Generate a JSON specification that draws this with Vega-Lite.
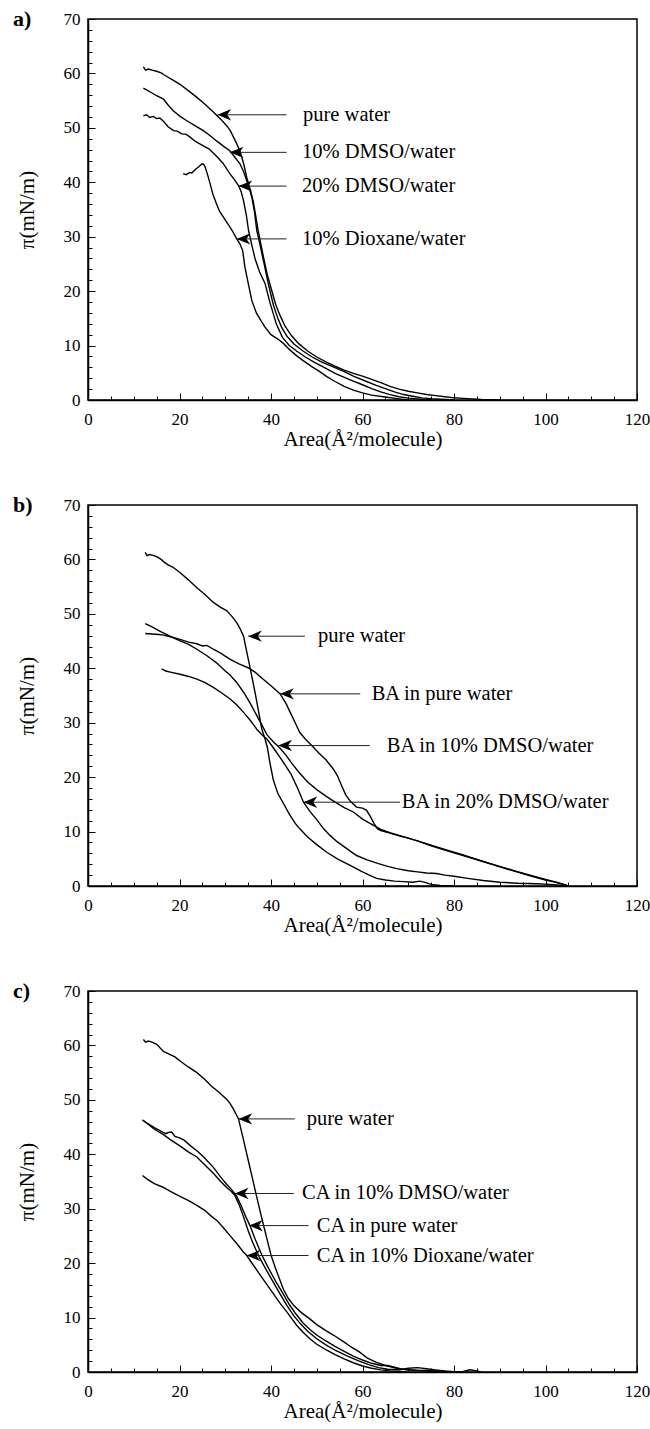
{
"$schema": "https://vega.github.io/schema/vega-lite/v6.json",
"background": "white",
"padding": {"left": 12, "top": 7, "right": 0, "bottom": 0},
"spacing": 43,
"datasets": {
"a_c": [
{"s":"pure water","x":12.1,"y":61.2},{"s":"pure water","x":12.6,"y":60.6},{"s":"pure water","x":13.2,"y":60.8},{"s":"pure water","x":14,"y":60.6},{"s":"pure water","x":15,"y":60.4},{"s":"pure water","x":16,"y":60.1},{"s":"pure water","x":16.5,"y":59.8},{"s":"pure water","x":17.5,"y":59.3},{"s":"pure water","x":18.5,"y":58.8},{"s":"pure water","x":20.1,"y":58.0},{"s":"pure water","x":22,"y":56.8},{"s":"pure water","x":23.8,"y":55.6},{"s":"pure water","x":25.5,"y":54.4},{"s":"pure water","x":27.4,"y":52.9},{"s":"pure water","x":29,"y":51.6},{"s":"pure water","x":30.3,"y":50.4},{"s":"pure water","x":31.1,"y":49.5},{"s":"pure water","x":31.8,"y":48.3},{"s":"pure water","x":32.5,"y":47.1},{"s":"pure water","x":33.2,"y":45.8},{"s":"pure water","x":34,"y":43.5},{"s":"pure water","x":34.7,"y":40.9},{"s":"pure water","x":35.4,"y":38.8},{"s":"pure water","x":36.1,"y":36.6},{"s":"pure water","x":37.2,"y":31.1},{"s":"pure water","x":38.3,"y":26.5},{"s":"pure water","x":39.2,"y":23},{"s":"pure water","x":40.1,"y":20.3},{"s":"pure water","x":41,"y":17.6},{"s":"pure water","x":42,"y":15.5},{"s":"pure water","x":43.1,"y":13.5},{"s":"pure water","x":44.5,"y":11.8},{"s":"pure water","x":46,"y":10.4},{"s":"pure water","x":48,"y":9},{"s":"pure water","x":50,"y":7.9},{"s":"pure water","x":52,"y":7},{"s":"pure water","x":54,"y":6.2},{"s":"pure water","x":56,"y":5.5},{"s":"pure water","x":58,"y":4.9},{"s":"pure water","x":60,"y":4.4},{"s":"pure water","x":62,"y":3.8},{"s":"pure water","x":64,"y":3.2},{"s":"pure water","x":66,"y":2.5},{"s":"pure water","x":68,"y":2},{"s":"pure water","x":70,"y":1.6},{"s":"pure water","x":72,"y":1.3},{"s":"pure water","x":74,"y":1},{"s":"pure water","x":76,"y":0.8},{"s":"pure water","x":78,"y":0.6},{"s":"pure water","x":80,"y":0.4},{"s":"pure water","x":82,"y":0.3},{"s":"pure water","x":84,"y":0.2},{"s":"pure water","x":86,"y":0.1},{"s":"pure water","x":88,"y":0.05},{"s":"pure water","x":90,"y":0},
{"s":"10% DMSO","x":12.1,"y":57.3},{"s":"10% DMSO","x":13,"y":56.9},{"s":"10% DMSO","x":14,"y":56.4},{"s":"10% DMSO","x":15,"y":55.9},{"s":"10% DMSO","x":16.5,"y":55.3},{"s":"10% DMSO","x":17.5,"y":54.2},{"s":"10% DMSO","x":18.7,"y":53.1},{"s":"10% DMSO","x":20,"y":52.2},{"s":"10% DMSO","x":21.6,"y":51.3},{"s":"10% DMSO","x":23,"y":50.6},{"s":"10% DMSO","x":25.2,"y":49.5},{"s":"10% DMSO","x":26.5,"y":48.7},{"s":"10% DMSO","x":28.1,"y":47.6},{"s":"10% DMSO","x":29.5,"y":46.7},{"s":"10% DMSO","x":31,"y":45.8},{"s":"10% DMSO","x":32.2,"y":44.5},{"s":"10% DMSO","x":33.2,"y":43.4},{"s":"10% DMSO","x":34,"y":42},{"s":"10% DMSO","x":34.7,"y":40.3},{"s":"10% DMSO","x":35.3,"y":38.8},{"s":"10% DMSO","x":35.8,"y":37.3},{"s":"10% DMSO","x":36.4,"y":34.5},{"s":"10% DMSO","x":36.9,"y":31.1},{"s":"10% DMSO","x":37.6,"y":28.5},{"s":"10% DMSO","x":38.5,"y":25},{"s":"10% DMSO","x":39.4,"y":21.4},{"s":"10% DMSO","x":40.5,"y":17.5},{"s":"10% DMSO","x":41.5,"y":15},{"s":"10% DMSO","x":42.3,"y":13.4},{"s":"10% DMSO","x":43.5,"y":11.7},{"s":"10% DMSO","x":45,"y":10.3},{"s":"10% DMSO","x":47,"y":9},{"s":"10% DMSO","x":49,"y":7.9},{"s":"10% DMSO","x":51,"y":7},{"s":"10% DMSO","x":53.6,"y":6.1},{"s":"10% DMSO","x":56,"y":5.2},{"s":"10% DMSO","x":58,"y":4.4},{"s":"10% DMSO","x":60.9,"y":3.4},{"s":"10% DMSO","x":63,"y":2.7},{"s":"10% DMSO","x":65,"y":2.1},{"s":"10% DMSO","x":67,"y":1.5},{"s":"10% DMSO","x":69,"y":1},{"s":"10% DMSO","x":71,"y":0.7},{"s":"10% DMSO","x":73,"y":0.4},{"s":"10% DMSO","x":75,"y":0.25},{"s":"10% DMSO","x":77,"y":0.15},{"s":"10% DMSO","x":80,"y":0},
{"s":"20% DMSO","x":12.1,"y":52.2},{"s":"20% DMSO","x":12.8,"y":52.4},{"s":"20% DMSO","x":13.5,"y":51.9},{"s":"20% DMSO","x":14.3,"y":52.1},{"s":"20% DMSO","x":15,"y":51.7},{"s":"20% DMSO","x":15.7,"y":51.8},{"s":"20% DMSO","x":16.5,"y":51.2},{"s":"20% DMSO","x":17.5,"y":50.2},{"s":"20% DMSO","x":18.7,"y":49.5},{"s":"20% DMSO","x":19.5,"y":49.4},{"s":"20% DMSO","x":20.5,"y":48.9},{"s":"20% DMSO","x":21.5,"y":48.8},{"s":"20% DMSO","x":22.3,"y":48.3},{"s":"20% DMSO","x":23.5,"y":47.5},{"s":"20% DMSO","x":25.2,"y":46.7},{"s":"20% DMSO","x":26.5,"y":46.1},{"s":"20% DMSO","x":28.1,"y":44.8},{"s":"20% DMSO","x":29.5,"y":43.5},{"s":"20% DMSO","x":31,"y":41.6},{"s":"20% DMSO","x":32,"y":40.5},{"s":"20% DMSO","x":32.9,"y":39.4},{"s":"20% DMSO","x":33.5,"y":38.2},{"s":"20% DMSO","x":34,"y":36.6},{"s":"20% DMSO","x":34.6,"y":34},{"s":"20% DMSO","x":35.1,"y":31.1},{"s":"20% DMSO","x":35.8,"y":28.5},{"s":"20% DMSO","x":36.5,"y":26},{"s":"20% DMSO","x":37.5,"y":23.5},{"s":"20% DMSO","x":38.7,"y":21.4},{"s":"20% DMSO","x":39.8,"y":17.8},{"s":"20% DMSO","x":41.2,"y":13.9},{"s":"20% DMSO","x":42.5,"y":11.5},{"s":"20% DMSO","x":44,"y":10},{"s":"20% DMSO","x":45.6,"y":9},{"s":"20% DMSO","x":47.5,"y":7.9},{"s":"20% DMSO","x":49.5,"y":6.9},{"s":"20% DMSO","x":51.4,"y":6.1},{"s":"20% DMSO","x":54,"y":4.9},{"s":"20% DMSO","x":57.3,"y":3.7},{"s":"20% DMSO","x":60,"y":2.8},{"s":"20% DMSO","x":62,"y":2.1},{"s":"20% DMSO","x":64,"y":1.5},{"s":"20% DMSO","x":66,"y":1},{"s":"20% DMSO","x":68,"y":0.6},{"s":"20% DMSO","x":70,"y":0.35},{"s":"20% DMSO","x":72,"y":0.2},{"s":"20% DMSO","x":75,"y":0},
{"s":"10% Dioxane","x":20.8,"y":41.6},{"s":"10% Dioxane","x":21.5,"y":41.4},{"s":"10% Dioxane","x":22.2,"y":41.8},{"s":"10% Dioxane","x":22.7,"y":41.7},{"s":"10% Dioxane","x":23.5,"y":42.4},{"s":"10% Dioxane","x":24.3,"y":42.9},{"s":"10% Dioxane","x":24.9,"y":43.4},{"s":"10% Dioxane","x":25.3,"y":43.3},{"s":"10% Dioxane","x":25.6,"y":42.8},{"s":"10% Dioxane","x":26.1,"y":41.5},{"s":"10% Dioxane","x":26.7,"y":39.7},{"s":"10% Dioxane","x":27.3,"y":37.8},{"s":"10% Dioxane","x":28.1,"y":36.0},{"s":"10% Dioxane","x":28.8,"y":34.6},{"s":"10% Dioxane","x":29.6,"y":33.6},{"s":"10% Dioxane","x":30.3,"y":32.7},{"s":"10% Dioxane","x":31,"y":31.8},{"s":"10% Dioxane","x":31.8,"y":30.7},{"s":"10% Dioxane","x":32.5,"y":29.6},{"s":"10% Dioxane","x":33.2,"y":28.7},{"s":"10% Dioxane","x":33.8,"y":27.5},{"s":"10% Dioxane","x":34.3,"y":24.4},{"s":"10% Dioxane","x":35,"y":21.5},{"s":"10% Dioxane","x":35.8,"y":18.3},{"s":"10% Dioxane","x":36.8,"y":16},{"s":"10% Dioxane","x":38,"y":14.3},{"s":"10% Dioxane","x":38.7,"y":13.4},{"s":"10% Dioxane","x":40,"y":12},{"s":"10% Dioxane","x":41.5,"y":11.2},{"s":"10% Dioxane","x":42.7,"y":10.4},{"s":"10% Dioxane","x":44,"y":9.3},{"s":"10% Dioxane","x":45.5,"y":8.2},{"s":"10% Dioxane","x":47.1,"y":7.2},{"s":"10% Dioxane","x":49,"y":6.1},{"s":"10% Dioxane","x":50.5,"y":5.3},{"s":"10% Dioxane","x":52.2,"y":4.3},{"s":"10% Dioxane","x":54,"y":3.4},{"s":"10% Dioxane","x":56,"y":2.5},{"s":"10% Dioxane","x":58,"y":1.8},{"s":"10% Dioxane","x":60,"y":1.3},{"s":"10% Dioxane","x":62,"y":0.9},{"s":"10% Dioxane","x":65.3,"y":0.5},{"s":"10% Dioxane","x":68,"y":0.2},{"s":"10% Dioxane","x":70,"y":0}
],
"a_n": [
{"label":"pure water","x":28.3,"y":52.4,"xe":43.4,"tx":47.0},
{"label":"10% DMSO/water","x":31,"y":45.5,"xe":43.4,"tx":46.8},
{"label":"20% DMSO/water","x":32.9,"y":39.3,"xe":43.4,"tx":46.8},
{"label":"10% Dioxane/water","x":32.5,"y":29.6,"xe":43.4,"tx":46.8}
],
"b_c": [
{"s":"pure water","x":12.5,"y":61.3},{"s":"pure water","x":12.9,"y":60.7},{"s":"pure water","x":13.4,"y":60.9},{"s":"pure water","x":14,"y":60.8},{"s":"pure water","x":15,"y":60.5},{"s":"pure water","x":16,"y":60.0},{"s":"pure water","x":16.5,"y":59.6},{"s":"pure water","x":17.5,"y":59.0},{"s":"pure water","x":18.5,"y":58.6},{"s":"pure water","x":20.1,"y":57.6},{"s":"pure water","x":22,"y":56.2},{"s":"pure water","x":23.8,"y":54.8},{"s":"pure water","x":25.5,"y":53.6},{"s":"pure water","x":27.4,"y":52.1},{"s":"pure water","x":29,"y":51.2},{"s":"pure water","x":30.3,"y":50.6},{"s":"pure water","x":31.5,"y":49.5},{"s":"pure water","x":32.5,"y":48.4},{"s":"pure water","x":33.3,"y":47.2},{"s":"pure water","x":34,"y":45.9},{"s":"pure water","x":34.7,"y":43.0},{"s":"pure water","x":35.4,"y":40.2},{"s":"pure water","x":36.5,"y":35.6},{"s":"pure water","x":37.3,"y":32},{"s":"pure water","x":38,"y":28.8},{"s":"pure water","x":38.7,"y":27},{"s":"pure water","x":39.2,"y":25.5},{"s":"pure water","x":39.8,"y":22.5},{"s":"pure water","x":40.5,"y":19.5},{"s":"pure water","x":41.5,"y":17},{"s":"pure water","x":42.7,"y":15.2},{"s":"pure water","x":44,"y":13.2},{"s":"pure water","x":45.3,"y":11.5},{"s":"pure water","x":46.3,"y":10.5},{"s":"pure water","x":48,"y":9},{"s":"pure water","x":50,"y":7.6},{"s":"pure water","x":52.2,"y":6.2},{"s":"pure water","x":54.5,"y":5},{"s":"pure water","x":57.3,"y":3.8},{"s":"pure water","x":60,"y":2.6},{"s":"pure water","x":61.5,"y":2},{"s":"pure water","x":63.1,"y":1.4},{"s":"pure water","x":65,"y":1.1},{"s":"pure water","x":67,"y":0.9},{"s":"pure water","x":69,"y":0.8},{"s":"pure water","x":71,"y":0.7},{"s":"pure water","x":72.5,"y":0.9},{"s":"pure water","x":73.5,"y":0.7},{"s":"pure water","x":75,"y":0.3},{"s":"pure water","x":77,"y":0.1},{"s":"pure water","x":80,"y":0},
{"s":"BA pure","x":12.5,"y":46.4},{"s":"BA pure","x":14,"y":46.3},{"s":"BA pure","x":15.5,"y":46.2},{"s":"BA pure","x":16.5,"y":46.1},{"s":"BA pure","x":18,"y":45.8},{"s":"BA pure","x":20.1,"y":45.3},{"s":"BA pure","x":22,"y":44.8},{"s":"BA pure","x":23.8,"y":44.5},{"s":"BA pure","x":25,"y":44.1},{"s":"BA pure","x":26,"y":44.2},{"s":"BA pure","x":27.4,"y":43.5},{"s":"BA pure","x":29,"y":42.8},{"s":"BA pure","x":31,"y":41.7},{"s":"BA pure","x":33,"y":40.8},{"s":"BA pure","x":35,"y":40.1},{"s":"BA pure","x":36.5,"y":39.3},{"s":"BA pure","x":38.3,"y":38.0},{"s":"BA pure","x":40,"y":36.8},{"s":"BA pure","x":42,"y":35.3},{"s":"BA pure","x":43.3,"y":33.5},{"s":"BA pure","x":44.2,"y":31.9},{"s":"BA pure","x":45,"y":30.5},{"s":"BA pure","x":46.3,"y":28.2},{"s":"BA pure","x":47.5,"y":27},{"s":"BA pure","x":48.9,"y":25.8},{"s":"BA pure","x":50.5,"y":24.4},{"s":"BA pure","x":52,"y":23.2},{"s":"BA pure","x":53.6,"y":21.5},{"s":"BA pure","x":54.5,"y":20.3},{"s":"BA pure","x":55.4,"y":18.5},{"s":"BA pure","x":56.3,"y":16.8},{"s":"BA pure","x":57.3,"y":15.6},{"s":"BA pure","x":58.7,"y":14.5},{"s":"BA pure","x":60,"y":14.3},{"s":"BA pure","x":60.9,"y":13.9},{"s":"BA pure","x":61.7,"y":12.8},{"s":"BA pure","x":62.5,"y":11.5},{"s":"BA pure","x":63.3,"y":10.5},{"s":"BA pure","x":64,"y":10.2},{"s":"BA pure","x":66,"y":9.7},{"s":"BA pure","x":68,"y":9.2},{"s":"BA pure","x":70,"y":8.8},{"s":"BA pure","x":72,"y":8.3},{"s":"BA pure","x":75,"y":7.4},{"s":"BA pure","x":78,"y":6.6},{"s":"BA pure","x":82,"y":5.6},{"s":"BA pure","x":86,"y":4.6},{"s":"BA pure","x":90,"y":3.5},{"s":"BA pure","x":93.7,"y":2.6},{"s":"BA pure","x":97,"y":1.8},{"s":"BA pure","x":100,"y":1.1},{"s":"BA pure","x":102,"y":0.7},{"s":"BA pure","x":103.9,"y":0.3},{"s":"BA pure","x":105,"y":0},
{"s":"BA 10","x":12.5,"y":48.2},{"s":"BA 10","x":14,"y":47.6},{"s":"BA 10","x":16,"y":46.7},{"s":"BA 10","x":17.9,"y":45.9},{"s":"BA 10","x":20,"y":45.1},{"s":"BA 10","x":22,"y":44.4},{"s":"BA 10","x":23.8,"y":43.5},{"s":"BA 10","x":26,"y":42.3},{"s":"BA 10","x":28.1,"y":41.0},{"s":"BA 10","x":30,"y":39.5},{"s":"BA 10","x":31,"y":38.8},{"s":"BA 10","x":32.5,"y":37.4},{"s":"BA 10","x":34,"y":35.6},{"s":"BA 10","x":35.5,"y":33.5},{"s":"BA 10","x":36.9,"y":31.3},{"s":"BA 10","x":38,"y":29.6},{"s":"BA 10","x":39.1,"y":27.8},{"s":"BA 10","x":40.5,"y":26.5},{"s":"BA 10","x":42,"y":25.3},{"s":"BA 10","x":43.3,"y":24},{"s":"BA 10","x":44.4,"y":22.7},{"s":"BA 10","x":46,"y":21},{"s":"BA 10","x":48,"y":19.1},{"s":"BA 10","x":50,"y":17.7},{"s":"BA 10","x":52,"y":16.5},{"s":"BA 10","x":53.5,"y":15.7},{"s":"BA 10","x":56,"y":14.4},{"s":"BA 10","x":58,"y":13.6},{"s":"BA 10","x":60,"y":12.3},{"s":"BA 10","x":62.5,"y":11.1},{"s":"BA 10","x":64,"y":10.4},{"s":"BA 10","x":66,"y":9.8},{"s":"BA 10","x":68,"y":9.3},{"s":"BA 10","x":70,"y":8.8},{"s":"BA 10","x":72,"y":8.3},{"s":"BA 10","x":75,"y":7.5},{"s":"BA 10","x":78,"y":6.7},{"s":"BA 10","x":82,"y":5.7},{"s":"BA 10","x":86,"y":4.6},{"s":"BA 10","x":90,"y":3.6},{"s":"BA 10","x":93.7,"y":2.7},{"s":"BA 10","x":97,"y":1.9},{"s":"BA 10","x":100,"y":1.2},{"s":"BA 10","x":102,"y":0.8},{"s":"BA 10","x":104,"y":0.3},{"s":"BA 10","x":105,"y":0},
{"s":"BA 20","x":16.1,"y":39.9},{"s":"BA 20","x":17,"y":39.5},{"s":"BA 20","x":18,"y":39.3},{"s":"BA 20","x":20.1,"y":38.9},{"s":"BA 20","x":22,"y":38.5},{"s":"BA 20","x":23.8,"y":38.0},{"s":"BA 20","x":25.5,"y":37.4},{"s":"BA 20","x":27.4,"y":36.5},{"s":"BA 20","x":29,"y":35.6},{"s":"BA 20","x":31,"y":34.4},{"s":"BA 20","x":32.5,"y":33.3},{"s":"BA 20","x":34,"y":31.9},{"s":"BA 20","x":35.5,"y":30.4},{"s":"BA 20","x":36.9,"y":28.8},{"s":"BA 20","x":38,"y":27.8},{"s":"BA 20","x":39.1,"y":27.0},{"s":"BA 20","x":40,"y":26},{"s":"BA 20","x":41,"y":24.8},{"s":"BA 20","x":42.5,"y":23},{"s":"BA 20","x":44.4,"y":20.5},{"s":"BA 20","x":45.8,"y":18},{"s":"BA 20","x":47.1,"y":15.4},{"s":"BA 20","x":48.5,"y":13.7},{"s":"BA 20","x":50,"y":12.2},{"s":"BA 20","x":51.5,"y":10.5},{"s":"BA 20","x":52.9,"y":9.3},{"s":"BA 20","x":54.5,"y":8.1},{"s":"BA 20","x":56.5,"y":6.9},{"s":"BA 20","x":58.7,"y":5.6},{"s":"BA 20","x":61,"y":4.8},{"s":"BA 20","x":63.5,"y":4.1},{"s":"BA 20","x":65.5,"y":3.6},{"s":"BA 20","x":67.5,"y":3.2},{"s":"BA 20","x":70,"y":2.8},{"s":"BA 20","x":72,"y":2.6},{"s":"BA 20","x":74,"y":2.4},{"s":"BA 20","x":76.2,"y":2.3},{"s":"BA 20","x":78,"y":2},{"s":"BA 20","x":80,"y":1.8},{"s":"BA 20","x":83,"y":1.4},{"s":"BA 20","x":86.4,"y":1.0},{"s":"BA 20","x":90,"y":0.7},{"s":"BA 20","x":94,"y":0.5},{"s":"BA 20","x":98,"y":0.4},{"s":"BA 20","x":101,"y":0.3},{"s":"BA 20","x":104,"y":0.1},{"s":"BA 20","x":105,"y":0}
],
"b_n": [
{"label":"pure water","x":35.0,"y":45.9,"xe":47.4,"tx":50.3},
{"label":"BA in pure water","x":42.0,"y":35.3,"xe":59.5,"tx":62.0},
{"label":"BA in 10% DMSO/water","x":41.6,"y":25.8,"xe":61.6,"tx":65.3},
{"label":"BA in 20% DMSO/water","x":47.1,"y":15.4,"xe":68.2,"tx":68.6}
],
"c_c": [
{"s":"pure water","x":12.1,"y":61.1},{"s":"pure water","x":12.6,"y":60.6},{"s":"pure water","x":13.2,"y":60.8},{"s":"pure water","x":14,"y":60.6},{"s":"pure water","x":15,"y":60.2},{"s":"pure water","x":16.5,"y":58.9},{"s":"pure water","x":17.5,"y":58.5},{"s":"pure water","x":19,"y":57.9},{"s":"pure water","x":20.5,"y":56.9},{"s":"pure water","x":22,"y":56},{"s":"pure water","x":23.8,"y":55.0},{"s":"pure water","x":25.5,"y":53.8},{"s":"pure water","x":27,"y":52.5},{"s":"pure water","x":28.5,"y":51.5},{"s":"pure water","x":30.3,"y":50.1},{"s":"pure water","x":31,"y":49.4},{"s":"pure water","x":31.8,"y":48.3},{"s":"pure water","x":32.4,"y":47.3},{"s":"pure water","x":32.9,"y":46.5},{"s":"pure water","x":34,"y":42.6},{"s":"pure water","x":35,"y":39},{"s":"pure water","x":36,"y":35.4},{"s":"pure water","x":37,"y":31.7},{"s":"pure water","x":38,"y":28.2},{"s":"pure water","x":39.1,"y":24.5},{"s":"pure water","x":40,"y":21.5},{"s":"pure water","x":41,"y":19},{"s":"pure water","x":41.6,"y":17.7},{"s":"pure water","x":42.7,"y":15.2},{"s":"pure water","x":43.8,"y":13.5},{"s":"pure water","x":45,"y":12.2},{"s":"pure water","x":46.5,"y":11},{"s":"pure water","x":48.4,"y":9.8},{"s":"pure water","x":50,"y":8.7},{"s":"pure water","x":52,"y":7.6},{"s":"pure water","x":53.8,"y":6.7},{"s":"pure water","x":56,"y":5.5},{"s":"pure water","x":57.5,"y":4.6},{"s":"pure water","x":59.3,"y":3.7},{"s":"pure water","x":61,"y":2.6},{"s":"pure water","x":62.9,"y":1.8},{"s":"pure water","x":65,"y":1.2},{"s":"pure water","x":67.5,"y":0.7},{"s":"pure water","x":70,"y":0.4},{"s":"pure water","x":72,"y":0.3},{"s":"pure water","x":75,"y":0.15},{"s":"pure water","x":78,"y":0.05},{"s":"pure water","x":80,"y":0},
{"s":"CA 10","x":11.9,"y":46.3},{"s":"CA 10","x":13,"y":45.6},{"s":"CA 10","x":14.5,"y":44.6},{"s":"CA 10","x":16.5,"y":43.6},{"s":"CA 10","x":18,"y":42.7},{"s":"CA 10","x":20,"y":41.6},{"s":"CA 10","x":22,"y":40.4},{"s":"CA 10","x":23.8,"y":39.5},{"s":"CA 10","x":25.5,"y":38.1},{"s":"CA 10","x":27.4,"y":36.5},{"s":"CA 10","x":29,"y":35},{"s":"CA 10","x":30.3,"y":33.9},{"s":"CA 10","x":31.2,"y":33.3},{"s":"CA 10","x":32.1,"y":32.4},{"s":"CA 10","x":33,"y":30.8},{"s":"CA 10","x":34,"y":28.5},{"s":"CA 10","x":35,"y":26},{"s":"CA 10","x":36,"y":23.8},{"s":"CA 10","x":37.5,"y":21},{"s":"CA 10","x":39,"y":18.7},{"s":"CA 10","x":40.5,"y":16.5},{"s":"CA 10","x":42,"y":14.3},{"s":"CA 10","x":43.5,"y":12.2},{"s":"CA 10","x":45,"y":10.3},{"s":"CA 10","x":46.5,"y":8.8},{"s":"CA 10","x":48,"y":7.5},{"s":"CA 10","x":50,"y":6.1},{"s":"CA 10","x":52,"y":5},{"s":"CA 10","x":54,"y":4},{"s":"CA 10","x":56.5,"y":3},{"s":"CA 10","x":59,"y":2.1},{"s":"CA 10","x":61.5,"y":1.3},{"s":"CA 10","x":63.5,"y":0.8},{"s":"CA 10","x":65.5,"y":0.5},{"s":"CA 10","x":68,"y":0.4},{"s":"CA 10","x":70,"y":0.7},{"s":"CA 10","x":72,"y":0.8},{"s":"CA 10","x":74,"y":0.6},{"s":"CA 10","x":76,"y":0.4},{"s":"CA 10","x":78,"y":0.2},{"s":"CA 10","x":80,"y":0.05},{"s":"CA 10","x":82,"y":0.1},{"s":"CA 10","x":83.5,"y":0.4},{"s":"CA 10","x":85,"y":0.2},{"s":"CA 10","x":86,"y":0},
{"s":"CA pure","x":11.9,"y":46.3},{"s":"CA pure","x":13,"y":45.7},{"s":"CA pure","x":14.5,"y":44.9},{"s":"CA pure","x":16,"y":44.2},{"s":"CA pure","x":17,"y":43.8},{"s":"CA pure","x":17.5,"y":44.0},{"s":"CA pure","x":18.3,"y":44.1},{"s":"CA pure","x":19,"y":43.3},{"s":"CA pure","x":20,"y":43.0},{"s":"CA pure","x":21,"y":42.6},{"s":"CA pure","x":22.5,"y":41.5},{"s":"CA pure","x":24,"y":40.5},{"s":"CA pure","x":25.5,"y":39.3},{"s":"CA pure","x":27.4,"y":37.6},{"s":"CA pure","x":29,"y":35.8},{"s":"CA pure","x":30.3,"y":34.5},{"s":"CA pure","x":31.3,"y":33.6},{"s":"CA pure","x":32.5,"y":32.3},{"s":"CA pure","x":33.5,"y":30.5},{"s":"CA pure","x":34.5,"y":28.5},{"s":"CA pure","x":35.4,"y":26.9},{"s":"CA pure","x":36.5,"y":24.5},{"s":"CA pure","x":38,"y":21.5},{"s":"CA pure","x":39.5,"y":19},{"s":"CA pure","x":41,"y":16.7},{"s":"CA pure","x":42.5,"y":14.6},{"s":"CA pure","x":44,"y":12.4},{"s":"CA pure","x":45.5,"y":10.6},{"s":"CA pure","x":47,"y":9},{"s":"CA pure","x":48.5,"y":7.8},{"s":"CA pure","x":50,"y":6.8},{"s":"CA pure","x":52,"y":5.7},{"s":"CA pure","x":54,"y":4.7},{"s":"CA pure","x":56,"y":3.8},{"s":"CA pure","x":58,"y":2.9},{"s":"CA pure","x":60,"y":2.2},{"s":"CA pure","x":62,"y":1.6},{"s":"CA pure","x":64,"y":1.2},{"s":"CA pure","x":65.5,"y":1.2},{"s":"CA pure","x":67,"y":0.9},{"s":"CA pure","x":68.5,"y":0.5},{"s":"CA pure","x":70,"y":0.4},{"s":"CA pure","x":72,"y":0.3},{"s":"CA pure","x":74,"y":0.3},{"s":"CA pure","x":77,"y":0.15},{"s":"CA pure","x":80,"y":0},
{"s":"CA diox","x":11.9,"y":36.1},{"s":"CA diox","x":13,"y":35.4},{"s":"CA diox","x":14.5,"y":34.6},{"s":"CA diox","x":16.5,"y":33.9},{"s":"CA diox","x":18,"y":33.2},{"s":"CA diox","x":20,"y":32.3},{"s":"CA diox","x":22,"y":31.5},{"s":"CA diox","x":23.8,"y":30.6},{"s":"CA diox","x":25.5,"y":29.7},{"s":"CA diox","x":27,"y":28.6},{"s":"CA diox","x":28.1,"y":27.9},{"s":"CA diox","x":29.5,"y":26.6},{"s":"CA diox","x":31,"y":25.1},{"s":"CA diox","x":32.5,"y":23.6},{"s":"CA diox","x":34,"y":22},{"s":"CA diox","x":34.7,"y":21.4},{"s":"CA diox","x":36,"y":19.8},{"s":"CA diox","x":37.5,"y":18},{"s":"CA diox","x":39,"y":16.2},{"s":"CA diox","x":40.5,"y":14.4},{"s":"CA diox","x":42,"y":12.6},{"s":"CA diox","x":43.5,"y":11},{"s":"CA diox","x":45.6,"y":8.6},{"s":"CA diox","x":47,"y":7.3},{"s":"CA diox","x":48.5,"y":6.1},{"s":"CA diox","x":50,"y":5.1},{"s":"CA diox","x":52.2,"y":4.0},{"s":"CA diox","x":54,"y":3.2},{"s":"CA diox","x":56,"y":2.4},{"s":"CA diox","x":58,"y":1.7},{"s":"CA diox","x":60,"y":1.1},{"s":"CA diox","x":62,"y":0.7},{"s":"CA diox","x":64,"y":0.4},{"s":"CA diox","x":66,"y":0.2},{"s":"CA diox","x":68,"y":0.1},{"s":"CA diox","x":70,"y":0}
],
"c_n": [
{"label":"pure water","x":32.9,"y":46.5,"xe":45.2,"tx":47.8},
{"label":"CA in 10% DMSO/water","x":32.1,"y":32.8,"xe":45.0,"tx":46.8},
{"label":"CA in pure water","x":35.2,"y":26.9,"xe":48.2,"tx":50.0},
{"label":"CA in 10% Dioxane/water","x":34.7,"y":21.4,"xe":48.2,"tx":50.0}
]
},
"vconcat": [
{"width":549,"height":381,
 "layer":[
  {"data":{"name":"a_c"},"mark":{"type":"line","color":"black","strokeWidth":1.4},
   "encoding":{
    "x":{"field":"x","type":"quantitative","title":"Area(Å²/molecule)","scale":{"domain":[0,120],"nice":false,"zero":false},"axis":{"values":[0,5,10,15,20,25,30,35,40,45,50,55,60,65,70,75,80,85,90,95,100,105,110,115,120],"tickCount":200,"format":"d","labelExpr":"datum.value % 20 === 0 ? datum.label : ''","tickSize":{"condition":{"test":"datum.value % 20 === 0","value":-7},"value":-4},"labelPadding":18,"titlePadding":-2,"labelOverlap":false}},
    "y":{"field":"y","type":"quantitative","title":"π(mN/m)","scale":{"domain":[0,70],"nice":false,"zero":false},"axis":{"values":[0,2,4,6,8,10,12,14,16,18,20,22,24,26,28,30,32,34,36,38,40,42,44,46,48,50,52,54,56,58,60,62,64,66,68,70],"tickCount":200,"format":"d","labelExpr":"datum.value % 10 === 0 ? datum.label : ''","tickSize":{"condition":{"test":"datum.value % 10 === 0","value":-7},"value":-4},"labelPadding":15,"titlePadding":26,"labelOverlap":false}},
    "detail":{"field":"s"}}},
  {"data":{"name":"a_n"},"mark":{"type":"rule","color":"#222","strokeWidth":1},
   "encoding":{"x":{"field":"x","type":"quantitative","title":"Area(Å²/molecule)"},"x2":{"field":"xe"},"y":{"field":"y","type":"quantitative","title":"π(mN/m)"}}},
  {"data":{"name":"a_n"},"mark":{"type":"point","shape":"M0,0L2.4,-1L1.7,0L2.4,1Z","filled":true,"color":"black","size":130,"opacity":1,"strokeWidth":0},
   "encoding":{"x":{"field":"x","type":"quantitative","title":"Area(Å²/molecule)"},"y":{"field":"y","type":"quantitative","title":"π(mN/m)"}}},
  {"data":{"name":"a_n"},"mark":{"type":"text","align":"left","baseline":"middle","fontSize":20.5,"color":"black","font":"Liberation Serif"},
   "encoding":{"x":{"field":"tx","type":"quantitative","title":"Area(Å²/molecule)"},"y":{"field":"y","type":"quantitative","title":"π(mN/m)"},"text":{"field":"label"}}},
  {"data":{"values":[{"panel":"a)"}]},"mark":{"type":"text","align":"left","baseline":"middle","fontSize":22,"fontWeight":"bold","color":"black","font":"Liberation Serif","clip":false},
   "encoding":{"x":{"datum":-16.4,"type":"quantitative","title":"Area(Å²/molecule)"},"y":{"datum":70,"type":"quantitative","title":"π(mN/m)"},"text":{"field":"panel"}}}
 ]},
{"width":549,"height":381,
 "layer":[
  {"data":{"name":"b_c"},"mark":{"type":"line","color":"black","strokeWidth":1.4},
   "encoding":{
    "x":{"field":"x","type":"quantitative","title":"Area(Å²/molecule)","scale":{"domain":[0,120],"nice":false,"zero":false},"axis":{"values":[0,5,10,15,20,25,30,35,40,45,50,55,60,65,70,75,80,85,90,95,100,105,110,115,120],"tickCount":200,"format":"d","labelExpr":"datum.value % 20 === 0 ? datum.label : ''","tickSize":{"condition":{"test":"datum.value % 20 === 0","value":-7},"value":-4},"labelPadding":18,"titlePadding":-2,"labelOverlap":false}},
    "y":{"field":"y","type":"quantitative","title":"π(mN/m)","scale":{"domain":[0,70],"nice":false,"zero":false},"axis":{"values":[0,2,4,6,8,10,12,14,16,18,20,22,24,26,28,30,32,34,36,38,40,42,44,46,48,50,52,54,56,58,60,62,64,66,68,70],"tickCount":200,"format":"d","labelExpr":"datum.value % 10 === 0 ? datum.label : ''","tickSize":{"condition":{"test":"datum.value % 10 === 0","value":-7},"value":-4},"labelPadding":15,"titlePadding":26,"labelOverlap":false}},
    "detail":{"field":"s"}}},
  {"data":{"name":"b_n"},"mark":{"type":"rule","color":"#222","strokeWidth":1},
   "encoding":{"x":{"field":"x","type":"quantitative","title":"Area(Å²/molecule)"},"x2":{"field":"xe"},"y":{"field":"y","type":"quantitative","title":"π(mN/m)"}}},
  {"data":{"name":"b_n"},"mark":{"type":"point","shape":"M0,0L2.4,-1L1.7,0L2.4,1Z","filled":true,"color":"black","size":130,"opacity":1,"strokeWidth":0},
   "encoding":{"x":{"field":"x","type":"quantitative","title":"Area(Å²/molecule)"},"y":{"field":"y","type":"quantitative","title":"π(mN/m)"}}},
  {"data":{"name":"b_n"},"mark":{"type":"text","align":"left","baseline":"middle","fontSize":20.5,"color":"black","font":"Liberation Serif"},
   "encoding":{"x":{"field":"tx","type":"quantitative","title":"Area(Å²/molecule)"},"y":{"field":"y","type":"quantitative","title":"π(mN/m)"},"text":{"field":"label"}}},
  {"data":{"values":[{"panel":"b)"}]},"mark":{"type":"text","align":"left","baseline":"middle","fontSize":22,"fontWeight":"bold","color":"black","font":"Liberation Serif","clip":false},
   "encoding":{"x":{"datum":-16.4,"type":"quantitative","title":"Area(Å²/molecule)"},"y":{"datum":70,"type":"quantitative","title":"π(mN/m)"},"text":{"field":"panel"}}}
 ]},
{"width":549,"height":381,
 "layer":[
  {"data":{"name":"c_c"},"mark":{"type":"line","color":"black","strokeWidth":1.4},
   "encoding":{
    "x":{"field":"x","type":"quantitative","title":"Area(Å²/molecule)","scale":{"domain":[0,120],"nice":false,"zero":false},"axis":{"values":[0,5,10,15,20,25,30,35,40,45,50,55,60,65,70,75,80,85,90,95,100,105,110,115,120],"tickCount":200,"format":"d","labelExpr":"datum.value % 20 === 0 ? datum.label : ''","tickSize":{"condition":{"test":"datum.value % 20 === 0","value":-7},"value":-4},"labelPadding":18,"titlePadding":-2,"labelOverlap":false}},
    "y":{"field":"y","type":"quantitative","title":"π(mN/m)","scale":{"domain":[0,70],"nice":false,"zero":false},"axis":{"values":[0,2,4,6,8,10,12,14,16,18,20,22,24,26,28,30,32,34,36,38,40,42,44,46,48,50,52,54,56,58,60,62,64,66,68,70],"tickCount":200,"format":"d","labelExpr":"datum.value % 10 === 0 ? datum.label : ''","tickSize":{"condition":{"test":"datum.value % 10 === 0","value":-7},"value":-4},"labelPadding":15,"titlePadding":26,"labelOverlap":false}},
    "detail":{"field":"s"}}},
  {"data":{"name":"c_n"},"mark":{"type":"rule","color":"#222","strokeWidth":1},
   "encoding":{"x":{"field":"x","type":"quantitative","title":"Area(Å²/molecule)"},"x2":{"field":"xe"},"y":{"field":"y","type":"quantitative","title":"π(mN/m)"}}},
  {"data":{"name":"c_n"},"mark":{"type":"point","shape":"M0,0L2.4,-1L1.7,0L2.4,1Z","filled":true,"color":"black","size":130,"opacity":1,"strokeWidth":0},
   "encoding":{"x":{"field":"x","type":"quantitative","title":"Area(Å²/molecule)"},"y":{"field":"y","type":"quantitative","title":"π(mN/m)"}}},
  {"data":{"name":"c_n"},"mark":{"type":"text","align":"left","baseline":"middle","fontSize":20.5,"color":"black","font":"Liberation Serif"},
   "encoding":{"x":{"field":"tx","type":"quantitative","title":"Area(Å²/molecule)"},"y":{"field":"y","type":"quantitative","title":"π(mN/m)"},"text":{"field":"label"}}},
  {"data":{"values":[{"panel":"c)"}]},"mark":{"type":"text","align":"left","baseline":"middle","fontSize":22,"fontWeight":"bold","color":"black","font":"Liberation Serif","clip":false},
   "encoding":{"x":{"datum":-16.4,"type":"quantitative","title":"Area(Å²/molecule)"},"y":{"datum":70,"type":"quantitative","title":"π(mN/m)"},"text":{"field":"panel"}}}
 ]}
],
"config": {
 "font": "Liberation Serif",
 "view": {"stroke": "black", "strokeWidth": 1.5},
 "axis": {"domainColor":"black","domainWidth":1.5,"tickColor":"black","tickWidth":1,"labelColor":"black","titleColor":"black","labelFont":"Liberation Serif","titleFont":"Liberation Serif","labelFontSize":17,"titleFontSize":21,"titleFontWeight":"normal","grid":false,"labelFlush":false,"labelBound":false,"labelOverlap":false}
}
}
